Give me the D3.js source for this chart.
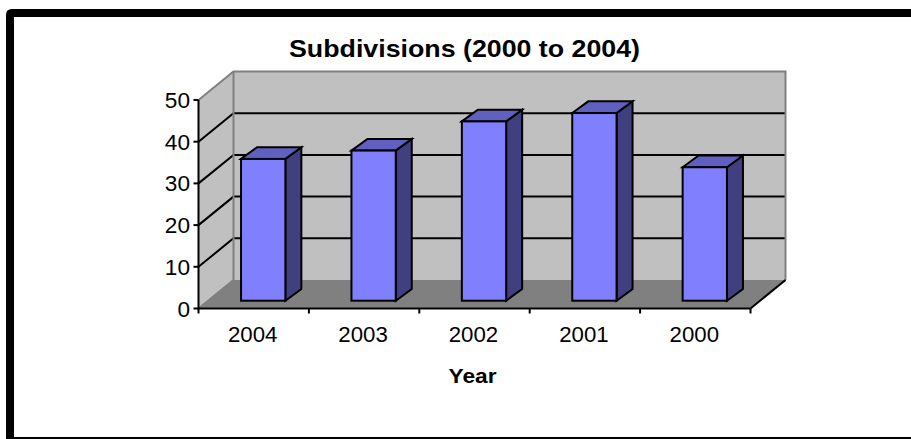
<!DOCTYPE html>
<html><head><meta charset="utf-8">
<script src="https://cdn.jsdelivr.net/npm/d3@7"></script>
<style>html,body{margin:0;padding:0;background:#fff}svg{display:block}text{font-family:"Liberation Sans",Arial,sans-serif;fill:#000}</style>
</head><body><svg id="c" width="911" height="439"></svg>
<script>
const categories = ["2004","2003","2002","2001","2000"];
const values = [34,36,43,45,32];
const yTicks = [0,10,20,30,40,50];
const titleText = "Subdivisions (2000 to 2004)";
const xTitle = "Year";

const svg = d3.select("#c");
const W=911,H=439;
const x0=198.5,x1=750.5,yB=308.5,yT=100,dx=35,dy=-28.5;
const x=d3.scaleBand().domain(categories).range([x0,x1]).paddingInner(0).paddingOuter(0);
const y=d3.scaleLinear().domain([0,50]).range([yB,yT]);
const pts=a=>a.map(p=>p.join(",")).join(" ");

// outer frame
svg.append("path").attr("d",`M10,${H} V15 Q10,13 12,13 H${W}`).attr("fill","none").attr("stroke","#000").attr("stroke-width",8);
svg.append("rect").attr("x",6).attr("y",437).attr("width",W).attr("height",2).attr("fill","#000");

// walls
svg.append("polygon").attr("points",pts([[x0+dx,yT+dy],[x1+dx,yT+dy],[x1+dx,yB+dy],[x0+dx,yB+dy]])).attr("fill","#c0c0c0");
svg.append("polygon").attr("points",pts([[x0,yT],[x0+dx,yT+dy],[x0+dx,yB+dy],[x0,yB]])).attr("fill","#c0c0c0");
svg.append("polygon").attr("points",pts([[x0,yB],[x1,yB],[x1+dx,yB+dy],[x0+dx,yB+dy]])).attr("fill","#808080");

// grid
yTicks.filter(t=>t>0&&t<50).forEach(t=>{
  svg.append("path").attr("d",`M${x0},${y(t)} L${x0+dx},${y(t)+dy} H${x1+dx}`).attr("fill","none").attr("stroke","#000").attr("stroke-width",2);
});
// wall edges
svg.append("path").attr("d",`M${x0},${yT} L${x0+dx},${yT+dy} H${x1+dx} V${yB+dy}`).attr("fill","none").attr("stroke","#808080").attr("stroke-width",2);
svg.append("path").attr("d",`M${x0+dx},${yT+dy} V${yB+dy} L${x0},${yB}`).attr("fill","none").attr("stroke","#808080").attr("stroke-width",2);
svg.append("path").attr("d",`M${x1},${yB} L${x1+dx},${yB+dy}`).attr("fill","none").attr("stroke","#000").attr("stroke-width",2);

// bars
const barW=44.3,fx=9.5,fy=-7.8,bx=16,by=-11.7;
const g=svg.append("g").attr("stroke","#000").attr("stroke-width",2).attr("stroke-linejoin","miter");
categories.forEach((c,i)=>{
  const cx=x(c)+x.bandwidth()/2+fx, l=cx-barW/2, r=cx+barW/2, b=y(0)+fy, t=y(values[i])+fy;
  g.append("polygon").attr("points",pts([[r,t],[r+bx,t+by],[r+bx,b+by],[r,b]])).attr("fill","#404080");
  g.append("polygon").attr("points",pts([[l,t],[l+bx,t+by],[r+bx,t+by],[r,t]])).attr("fill","#6060c0");
  g.append("rect").attr("x",l).attr("y",t).attr("width",barW).attr("height",b-t).attr("fill","#8080ff");
});

// axes
const ax=svg.append("g").attr("stroke","#000").attr("stroke-width",2).attr("fill","none");
ax.append("path").attr("d",`M${x0},${yT} V${yB} H${x1}`);
yTicks.forEach(t=>ax.append("line").attr("x1",x0-5).attr("x2",x0).attr("y1",y(t)).attr("y2",y(t)));
categories.forEach(c=>ax.append("line").attr("x1",x(c)).attr("x2",x(c)).attr("y1",yB).attr("y2",yB+5));
ax.append("line").attr("x1",x1).attr("x2",x1).attr("y1",yB).attr("y2",yB+5);

const label=(xp,yp,s,size,anchor,len,bold)=>{
  const n=svg.append("text").attr("x",xp).attr("y",yp).attr("text-anchor",anchor).attr("font-size",size)
    .attr("textLength",len).attr("lengthAdjust","spacingAndGlyphs").text(s);
  if(bold)n.attr("font-weight","bold");
};
yTicks.forEach(t=>label(190,y(t)+8,String(t),22,"end",String(t).length*12.6));
categories.forEach(c=>label(x(c)+x.bandwidth()/2-1,342,c,22,"middle",49.5));
label(464.5,57,titleText,24,"middle",351,true);
label(472.5,382.5,xTitle,20,"middle",48,true);
</script></body></html>
